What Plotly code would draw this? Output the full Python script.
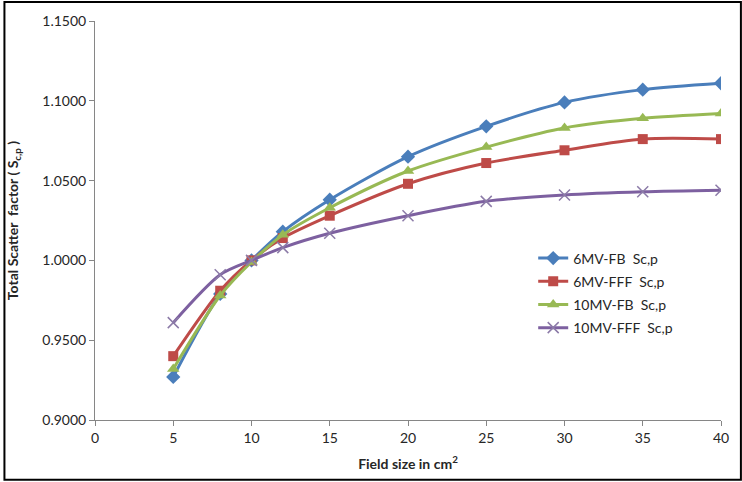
import plotly.graph_objects as go

field_size = [5, 8, 10, 12, 15, 20, 25, 30, 35, 40]
mv6_fb = [0.927, 0.979, 1.000, 1.018, 1.038, 1.065, 1.084, 1.099, 1.107, 1.111]
mv6_fff = [0.940, 0.981, 1.000, 1.014, 1.028, 1.048, 1.061, 1.069, 1.076, 1.076]
mv10_fb = [0.932, 0.978, 0.999, 1.016, 1.033, 1.056, 1.071, 1.083, 1.089, 1.092]
mv10_fff = [0.961, 0.991, 1.000, 1.008, 1.017, 1.028, 1.037, 1.041, 1.043, 1.044]

series_names = ["6MV-FB  Sc,p", "6MV-FFF  Sc,p", "10MV-FB  Sc,p", "10MV-FFF  Sc,p"]
x_ticks = [0, 5, 10, 15, 20, 25, 30, 35, 40]
y_ticks = [0.90, 0.95, 1.00, 1.05, 1.10, 1.15]

styles = [
    dict(color="#4A7EBB", symbol="diamond", size=11),
    dict(color="#BE4B48", symbol="square", size=10),
    dict(color="#98B954", symbol="triangle-up", size=11),
    dict(color="#7D60A0", symbol="x-thin", size=11),
]

fig = go.Figure()
for i, (name, vals, st) in enumerate(zip(series_names, [mv6_fb, mv6_fff, mv10_fb, mv10_fff], styles)):
    marker = dict(symbol=st["symbol"], size=st["size"], color=st["color"])
    if st["symbol"] == "x-thin":
        marker["line"] = dict(color="#8C7BA8", width=1.5)
    fig.add_trace(go.Scatter(
        x=field_size, y=vals, name=name, mode="lines+markers", legendgroup=f"g{i}",
        line=dict(color=st["color"], width=3, shape="spline", smoothing=0.8),
        marker=marker,
    ))

font_family = "Lato, Open Sans, sans-serif"
axis_font = dict(family=font_family, size=14, color="#262626")
fig.update_layout(
    width=742, height=482,
    margin=dict(l=92, r=21, t=20, b=62),
    paper_bgcolor="white", plot_bgcolor="white",
    font=dict(family=font_family, size=14, color="#262626"),
    xaxis=dict(
        range=[0, 40], tickvals=x_ticks, showgrid=False, zeroline=False,
        showline=True, linecolor="#868686", linewidth=1,
        ticks="outside", ticklen=5, tickcolor="#868686",
        tickfont=axis_font,
        title=dict(text="<b>Field size in cm<sup>2</sup></b>", font=dict(size=14, color="#262626"), standoff=14),
    ),
    yaxis=dict(
        range=[0.9, 1.15], tickvals=y_ticks, tickformat=".4f", showgrid=False, zeroline=False,
        showline=True, linecolor="#868686", linewidth=1,
        ticks="outside", ticklen=5, tickcolor="#868686",
        tickfont=axis_font,
        title=dict(text="<b>Total Scatter  factor ( S<sub>c,p</sub> )</b>", font=dict(size=14, color="#262626"), standoff=20),
    ),
    legend=dict(
        x=0.70, y=0.445, xanchor="left", yanchor="top",
        bgcolor="rgba(0,0,0,0)", font=dict(size=14, color="#262626"),
        traceorder="grouped", tracegroupgap=2, itemwidth=30,
    ),
    showlegend=True,
)

fig.add_shape(type="rect", xref="paper", yref="paper",
              x0=-91/629, x1=649/629, y0=-60/400, y1=19/400 + 1,
              line=dict(color="black", width=2), fillcolor="rgba(0,0,0,0)")

fig.write_html("out.html", config={"displayModeBar": False},
               post_script="document.body.style.margin='0px';")
